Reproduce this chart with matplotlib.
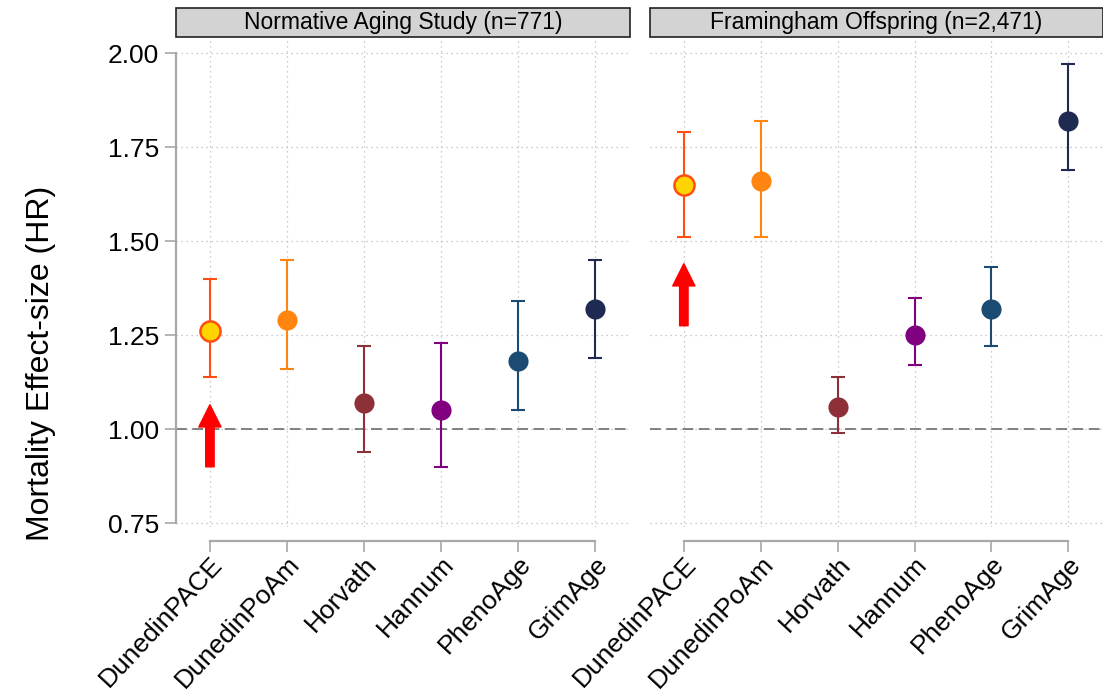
import matplotlib
matplotlib.use("Agg")
import matplotlib.pyplot as plt
import numpy as np

plt.rcParams["font.family"] = ["Liberation Sans", "DejaVu Sans"]

# ── data ──────────────────────────────────────────────────────────────────────
clocks = ["DunedinPACE", "DunedinPoAm", "Horvath", "Hannum", "PhenoAge", "GrimAge"]
panels = ["Normative Aging Study (n=771)", "Framingham Offspring (n=2,471)"]

nas_hr = [1.26, 1.29, 1.07, 1.05, 1.18, 1.32]
nas_lo = [1.14, 1.16, 0.94, 0.90, 1.05, 1.19]
nas_hi = [1.40, 1.45, 1.22, 1.23, 1.34, 1.45]

fhs_hr = [1.65, 1.66, 1.06, 1.25, 1.32, 1.82]
fhs_lo = [1.51, 1.51, 0.99, 1.17, 1.22, 1.69]
fhs_hi = [1.79, 1.82, 1.14, 1.35, 1.43, 1.97]

# red arrows under DunedinPACE (tail, tip) in HR units
arrow_nas = (0.90, 1.065)
arrow_fhs = (1.275, 1.44)

line_colors = ["#FF4F10", "#FF8410", "#8E3038", "#800080", "#1B4A72", "#1F2A52"]
face_colors = ["#FFD400", "#FF8410", "#8E3038", "#800080", "#1B4A72", "#1F2A52"]

# ── figure ────────────────────────────────────────────────────────────────────
W, H = 1103, 695
fig = plt.figure(figsize=(W / 100, H / 100), dpi=100)


def px_axes(x0, x1, ytop, ybot):
    return fig.add_axes([x0 / W, 1 - ybot / H, (x1 - x0) / W, (ybot - ytop) / H])


ax1 = px_axes(176, 630, 38, 527)
ax2 = px_axes(650, 1103, 38, 527)

x = np.arange(1, len(clocks) + 1)

for ax, title, hr, lo, hi, arr in [
    (ax1, panels[0], nas_hr, nas_lo, nas_hi, arrow_nas),
    (ax2, panels[1], fhs_hr, fhs_lo, fhs_hi, arrow_fhs),
]:
    ax.set_xlim(0.56, 6.45)
    ax.set_ylim(0.74, 2.04)
    ax.set_yticks([0.75, 1.00, 1.25, 1.50, 1.75, 2.00])
    ax.set_xticks(x)
    ax.grid(True, ls=(0, (1, 3)), color="#BBBBBB", lw=0.9)
    ax.set_axisbelow(True)
    ax.axhline(1.0, color="#777777", lw=1.3, ls=(0, (6, 3)), zorder=1)

    for i in range(len(clocks)):
        ax.errorbar(x[i], hr[i], yerr=[[hr[i] - lo[i]], [hi[i] - hr[i]]],
                    fmt="none", ecolor=line_colors[i], elinewidth=1.5,
                    capsize=5, capthick=1.5, zorder=3)
        ax.plot(x[i], hr[i], "o", ms=14.5, mfc=face_colors[i],
                mec=line_colors[i], mew=1.8 if i == 0 else 0, zorder=4)

    ax.annotate("", xy=(1, arr[1]), xytext=(1, arr[0]),
                arrowprops=dict(arrowstyle="simple,head_length=1.0,head_width=1.0,tail_width=0.38",
                                color="red", shrinkA=0, shrinkB=0, mutation_scale=16),
                zorder=5)

    # x axis offset below the panel
    for s in ["top", "right"]:
        ax.spines[s].set_visible(False)
    ax.spines["bottom"].set_position(("outward", 10))
    ax.spines["bottom"].set_bounds(1, 6)
    ax.spines["bottom"].set_color("#A8A8A8")
    ax.spines["bottom"].set_linewidth(1.6)
    ax.set_xticklabels(clocks, rotation=47, ha="right", va="top",
                       rotation_mode="anchor", fontsize=19)
    ax.tick_params(axis="x", length=8, width=1.2, color="#A8A8A8", pad=0)

    # facet strip
    strip = plt.Rectangle((0, 1.0 + 1 / 489), 1.0, 29 / 489, transform=ax.transAxes,
                          fc="#D3D3D3", ec="#222222", lw=1.2, clip_on=False, zorder=9)
    ax.add_patch(strip)
    ax.text(0.5, 1.0 + 16 / 489, title, transform=ax.transAxes, ha="center",
            va="center", fontsize=16.5, zorder=10)

ax1.spines["left"].set_bounds(0.75, 2.00)
ax1.spines["left"].set_color("#A8A8A8")
ax1.spines["left"].set_linewidth(1.6)
ax1.tick_params(axis="y", length=8, width=1.2, color="#A8A8A8", labelsize=19, pad=4)
ax1.set_yticklabels(["0.75", "1.00", "1.25", "1.50", "1.75", "2.00"])
ax1.set_ylabel("Mortality Effect-size (HR)", fontsize=23)
ax1.yaxis.set_label_coords(-0.265, 0.335)

ax2.spines["left"].set_visible(False)
ax2.tick_params(axis="y", left=False, labelleft=False)

fig.savefig("out.png", dpi=100)
